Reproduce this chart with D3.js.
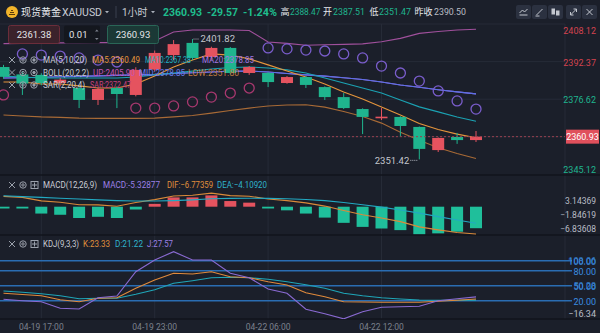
<!DOCTYPE html>
<html><head><meta charset="utf-8">
<script src="https://cdn.jsdelivr.net/npm/d3@7"></script>
<style>
html,body{margin:0;padding:0;background:#1b1f2a;overflow:hidden;}
svg{display:block;font-family:Roboto,"Noto Sans CJK SC",sans-serif;}
</style></head><body>
<svg id="c" width="600" height="333"></svg>
<script>
// ---------- DATA ----------
const times = ["04-19 15:00","04-19 16:00","04-19 17:00","04-19 18:00","04-19 19:00","04-19 20:00","04-19 21:00","04-19 22:00","04-19 23:00",
  "04-20 00:00","04-20 01:00","04-20 02:00","04-20 03:00","04-20 04:00",
  "04-22 06:00","04-22 07:00","04-22 08:00","04-22 09:00","04-22 10:00","04-22 11:00","04-22 12:00","04-22 13:00","04-22 14:00","04-22 15:00","04-22 16:00","04-22 17:00"];
const open  = [2390.1,2387.0,2386.8,2383.4,2381.3,2376.3,2381.3,2378.4,2389.0,2395.1,2400.2,2394.3,2398.1,2387.6,2387.6,2383.4,2385.9,2381.7,2377.5,2372.5,2369.1,2369.2,2365.0,2355.3,2360.8,2359.5];
const high  = [2391.0,2388.0,2387.5,2385.5,2382.0,2381.5,2382.0,2390.0,2397.0,2401.4,2401.82,2398.6,2398.5,2390.5,2388.0,2386.3,2386.2,2382.0,2379.2,2372.8,2372.9,2369.5,2365.2,2360.6,2362.5,2363.3];
const low   = [2385.2,2378.4,2382.5,2382.0,2372.9,2374.2,2372.9,2377.8,2388.3,2393.0,2393.0,2393.0,2387.0,2386.8,2381.7,2383.1,2381.3,2376.3,2372.5,2362.0,2367.9,2360.8,2351.42,2354.5,2357.9,2358.7];
const close = [2386.0,2383.2,2383.4,2384.8,2376.3,2380.9,2378.8,2388.9,2396.0,2399.7,2393.9,2398.1,2387.6,2390.1,2383.8,2385.9,2382.6,2377.5,2372.9,2369.2,2369.3,2365.4,2355.8,2360.4,2359.5,2360.93];

const ma5  = [2383.8,2383.8,2383.0,2383.0,2382.2,2381.3,2381.3,2383.0,2386.3,2390.1,2393.0,2395.6,2395.1,2393.5,2391.0,2388.4,2385.9,2383.0,2379.6,2376.7,2373.4,2370.0,2366.4,2363.9,2362.0,2360.49];
const ma10 = [2386.3,2385.9,2385.5,2385.5,2385.5,2385.5,2385.5,2385.9,2386.8,2387.6,2388.4,2389.3,2389.9,2390.1,2389.7,2388.9,2387.6,2385.5,2383.4,2381.3,2379.2,2376.3,2373.4,2371.3,2369.2,2367.38];
const ma20 = [2385.5,2385.6,2385.8,2386.0,2386.2,2386.4,2386.6,2386.8,2387.0,2387.4,2387.7,2388.0,2388.3,2388.4,2388.0,2387.4,2386.8,2386.3,2385.6,2384.9,2383.8,2382.6,2381.6,2380.6,2379.7,2378.85];
const bollUp  = [2399.9,2400.0,2400.1,2400.2,2400.2,2400.3,2400.3,2400.4,2401.0,2404.8,2405.6,2405.6,2405.6,2405.4,2400.6,2400.0,2399.2,2399.4,2399.6,2399.8,2400.7,2402.1,2404.2,2405.0,2405.6,2405.90];
const bollMid = [2385.5,2385.6,2385.8,2386.0,2386.2,2386.4,2386.6,2386.8,2387.0,2387.4,2387.7,2388.0,2388.3,2388.4,2388.0,2387.4,2386.8,2386.3,2385.6,2384.9,2383.8,2382.6,2381.6,2380.6,2379.7,2378.85];
const bollLow = [2370.0,2369.6,2369.2,2369.0,2368.7,2368.6,2368.6,2368.6,2368.7,2369.2,2369.8,2370.8,2371.9,2372.9,2373.8,2374.2,2374.3,2373.3,2371.5,2369.4,2366.6,2362.8,2359.4,2356.3,2353.9,2351.80];
const sar = [2378.4,2395.6,2395.1,2394.7,2393.9,2393.0,2392.2,2372.9,2372.9,2373.8,2375.5,2377.5,2379.2,2381.3,2398.1,2397.7,2397.2,2396.8,2395.6,2393.9,2390.5,2387.6,2384.2,2380.1,2375.9,2372.47];

const macdHist = [-0.3,-0.4,-1.7,-2.0,-2.8,-2.5,-2.8,-0.7,0.7,2.3,2.3,2.8,1.4,1.0,-0.3,-0.9,-1.7,-2.7,-4.0,-5.0,-5.4,-5.8,-6.8,-6.6,-6.2,-5.32877];
const dif = [2.55,2.3,1.45,1.1,0.5,0.45,0.1,1.05,1.75,2.65,2.85,3.35,2.75,2.6,1.9,1.5,0.95,0.15,-0.95,-2.0,-2.8,-3.7,-5.0,-5.75,-6.4,-6.77359];
const dea = [2.7,2.5,2.3,2.1,1.9,1.7,1.5,1.4,1.4,1.5,1.7,1.95,2.05,2.1,2.05,1.95,1.8,1.5,1.05,0.5,-0.1,-0.8,-1.6,-2.45,-3.3,-4.10920];

const kLine = [34.8,32.5,30.0,22.0,18.0,24.8,26.0,45.0,61.4,74.8,73.4,78.0,68.0,66.0,58.0,51.4,36.0,28.0,18.0,17.5,17.0,17.0,16.8,19.0,21.0,23.33];
const dLine = [39.4,37.0,34.0,30.0,24.0,24.8,25.0,33.0,42.0,54.8,60.0,66.0,67.0,66.0,63.0,58.0,52.0,45.0,35.0,30.0,26.0,23.5,21.5,21.0,21.0,21.22];
const jLine = [22.8,20.0,18.0,5.0,3.4,26.0,29.4,78.0,101.4,118.0,101.4,101.4,74.8,66.0,43.4,34.8,3.0,-6.0,-16.34,-2.0,6.8,8.0,8.8,20.0,24.0,27.57];

const priceTicks = [2408.12, 2392.37, 2376.62, 2345.12];
const priceGrid  = [2408.12, 2392.37, 2376.62, 2360.87];
const prevClose = 2390.50;
const lastPrice = 2360.93;
const quote = {chg: "-29.57", pct: "-1.24%", high: "2388.47", open: "2387.51", low: "2351.47", prev: "2390.50"};
const macdTicks = [3.14369, -1.84619, -6.83608];
const kdjLevels = [100, 80, 50, 20];
const kdjLevelLabels = ["100.00", "80.00", "50.00", "20.00"];
const kdjOverLabels = [["108.06", 100], ["50.28", 50]];
const kdjMin = -16.34;
const timeTicks = ["04-19 17:00","04-19 23:00","04-22 06:00","04-22 12:00"];

// ---------- SETUP ----------
const svg = d3.select("#c");
const W = 600, plotR = 565;
const C = {bg:"#1b1f2a", grid:"#262b37", sep:"#12151c", up:"#e5535f", down:"#1fb58e",
  ma5:"#e5953c", ma10:"#1ba2b3", ma20:"#8f6ad8", mid:"#5d6fe6", bUp:"#a0509c", bLow:"#a86a36",
  sarAbove:"#7a5dcc", sarBelow:"#a8386f", text:"#c9ccd4"};
const fmt2 = d3.format(".2f"), fmt5 = d3.format(".5f");
const idx = d3.range(times.length);

const x  = d3.scalePoint().domain(times).range([3.5, 476]);
const yP = d3.scaleLinear().domain([2345.12, 2408.12]).range([174.4, 24]);
const yM = d3.scaleLinear().domain([-6.83608, 3.14369]).range([234.3, 194]);
const yK = d3.scaleLinear().domain([0, 100]).range([310.7, 260.7]);

svg.append("rect").attr("width", W).attr("height", 333).attr("fill", C.bg);

const defs = svg.append("defs");
defs.append("clipPath").attr("id","cpMain").append("rect").attr("x",0).attr("y",24).attr("width",plotR).attr("height",151);
defs.append("clipPath").attr("id","cpMacd").append("rect").attr("x",0).attr("y",175).attr("width",plotR).attr("height",60);
defs.append("clipPath").attr("id","cpKdj").append("rect").attr("x",0).attr("y",235).attr("width",plotR).attr("height",84);

// grid
const grid = svg.append("g");
grid.selectAll("line.h").data(priceGrid).join("line")
  .attr("x1",0).attr("x2",plotR).attr("y1",d=>yP(d)).attr("y2",d=>yP(d)).attr("stroke",C.grid);
grid.selectAll("line.v").data(timeTicks).join("line")
  .attr("x1",d=>x(d)).attr("x2",d=>x(d)).attr("y1",24).attr("y2",319).attr("stroke",C.grid);
grid.append("line").attr("x1",plotR).attr("x2",plotR).attr("y1",24).attr("y2",319).attr("stroke",C.grid);
[175, 235, 319].forEach(y => grid.append("line").attr("x1",0).attr("x2",W).attr("y1",y).attr("y2",y).attr("stroke",C.sep).attr("stroke-width",1.5));

// ---------- MAIN ----------
const gMain = svg.append("g").attr("clip-path","url(#cpMain)");
const line = (arr, ys) => d3.line().x((d,i)=>x(times[i])).y(d=>ys(d))(arr);
[[bollLow,C.bLow],[bollUp,C.bUp],[ma20,C.ma20],[bollMid,C.mid],[ma10,C.ma10],[ma5,C.ma5]].forEach(([arr,col])=>{
  gMain.append("path").attr("d", line(arr, yP)).attr("fill","none").attr("stroke",col).attr("stroke-width",1.1);
});
const cw = 12;
const candleCol = i => close[i] >= open[i] ? C.up : C.down;
gMain.selectAll("line.wick").data(idx).join("line")
  .attr("x1",i=>x(times[i])).attr("x2",i=>x(times[i]))
  .attr("y1",i=>yP(high[i])).attr("y2",i=>yP(low[i])).attr("stroke",candleCol).attr("stroke-width",1);
gMain.selectAll("rect.body").data(idx).join("rect")
  .attr("x",i=>x(times[i])-cw/2).attr("width",cw)
  .attr("y",i=>yP(Math.max(open[i],close[i])))
  .attr("height",i=>Math.max(1.6, Math.abs(yP(open[i])-yP(close[i]))))
  .attr("fill",candleCol);
gMain.selectAll("circle.sar").data(idx).join("circle")
  .attr("cx",i=>x(times[i])).attr("cy",i=>yP(sar[i])).attr("r",5)
  .attr("fill","none").attr("stroke-width",1.3)
  .attr("stroke",i=> sar[i] > close[i] ? C.sarAbove : C.sarBelow);

// current price line
gMain.append("line").attr("x1",0).attr("x2",plotR).attr("y1",yP(lastPrice)).attr("y2",yP(lastPrice))
  .attr("stroke","#9a4150").attr("stroke-dasharray","2,2");

// high/low markers
const iMax = d3.maxIndex(high), iMin = d3.minIndex(low);
const hx = x(times[iMax]), hy = yP(high[iMax]);
svg.append("line").attr("x1",hx+1).attr("x2",hx+7).attr("y1",hy).attr("y2",hy).attr("stroke","#aeb2bb").attr("stroke-dasharray","1,1");
svg.append("text").attr("x",hx+8).attr("y",hy).attr("dy","0.35em").attr("font-size",9.5).attr("fill","#c3c6cd").text(fmt2(high[iMax]));
const lx = x(times[iMin]), ly = yP(low[iMin]);
svg.append("line").attr("x1",lx-9).attr("x2",lx-1).attr("y1",ly+1).attr("y2",ly+1).attr("stroke","#aeb2bb").attr("stroke-dasharray","1,1");
svg.append("text").attr("x",lx-10).attr("y",ly+1).attr("dy","0.35em").attr("text-anchor","end").attr("font-size",9.5).attr("fill","#c3c6cd").text(fmt2(low[iMin]));

// price axis labels
const pMin = d3.min(priceTicks), pMax = d3.max(priceTicks);
svg.selectAll("text.pt").data(priceTicks).join("text")
  .attr("x",596).attr("text-anchor","end").attr("font-size",9)
  .attr("y",d=> yP(d) + (d===pMax?7:(d===pMin?-5:1))).attr("dy","0.35em")
  .attr("fill",d=> d>prevClose ? "#d4434f" : "#1fb58e").text(d=>fmt2(d));
svg.append("rect").attr("x",566).attr("y",yP(lastPrice)-7).attr("width",33).attr("height",14).attr("fill","#e0505c");
svg.append("text").attr("x",582.5).attr("y",yP(lastPrice)).attr("dy","0.35em").attr("text-anchor","middle")
  .attr("font-size",9).attr("fill","#fff").text(fmt2(lastPrice));

// ---------- MACD ----------
const gM = svg.append("g").attr("clip-path","url(#cpMacd)");
gM.selectAll("rect").data(idx).join("rect")
  .attr("x",i=>x(times[i])-cw/2).attr("width",cw)
  .attr("y",i=> macdHist[i]>=0 ? yM(macdHist[i]) : yM(0))
  .attr("height",i=> Math.max(1.8, Math.abs(yM(macdHist[i])-yM(0))))
  .attr("fill",i=> macdHist[i]>=0 ? C.up : "#1fbf9b");
gM.append("path").attr("d",line(dif,yM)).attr("fill","none").attr("stroke","#d98a3a").attr("stroke-width",1.1);
gM.append("path").attr("d",line(dea,yM)).attr("fill","none").attr("stroke","#22a9c2").attr("stroke-width",1.1);
const mMax = d3.max(macdTicks), mMin = d3.min(macdTicks);
svg.selectAll("text.mt").data(macdTicks).join("text")
  .attr("x",596).attr("text-anchor","end").attr("font-size",8.5).attr("fill","#b9bdc6")
  .attr("y",d=> yM(d) + (d===mMax?7.5:(d===mMin?-5:1))).attr("dy","0.35em").text(d=>fmt5(d));

// ---------- KDJ ----------
const gK = svg.append("g");
gK.selectAll("line.lv").data(kdjLevels).join("line")
  .attr("x1",0).attr("x2",572).attr("y1",d=>yK(d)).attr("y2",d=>yK(d)).attr("stroke","#2a6db2").attr("stroke-width",1.4);
const gKc = svg.append("g").attr("clip-path","url(#cpKdj)");
[[dLine,"#1fa6b8"],[kLine,"#e08a3c"],[jLine,"#8a6ad2"]].forEach(([arr,col])=>{
  gKc.append("path").attr("d",line(arr,yK)).attr("fill","none").attr("stroke",col).attr("stroke-width",1.1);
});
svg.selectAll("text.kl").data(kdjLevels).join("text")
  .attr("x",596).attr("text-anchor","end").attr("font-size",9).attr("fill","#3a8de0")
  .attr("y",d=>yK(d)+1).attr("dy","0.35em").text((d,i)=>kdjLevelLabels[i]);
svg.selectAll("text.ko").data(kdjOverLabels).join("text")
  .attr("x",596).attr("text-anchor","end").attr("font-size",9).attr("fill","#3a8de0").attr("opacity",0.8)
  .attr("y",d=>yK(d[1])+0.5).attr("dy","0.35em").text(d=>d[0]);
svg.append("text").attr("x",596).attr("text-anchor","end").attr("font-size",9).attr("fill","#b9bdc6")
  .attr("y",yK(kdjMin)-5).attr("dy","0.35em").text(fmt2(kdjMin));

// time axis
svg.selectAll("text.tt").data(timeTicks).join("text")
  .attr("x",d=>x(d)).attr("y",327).attr("dy","0.35em").attr("text-anchor","middle")
  .attr("font-size",8.5).attr("fill","#7c818d").text(d=>d);

// ---------- LEGENDS ----------
function icons(y, third){
  const g = svg.append("g").attr("stroke","#9aa0ab").attr("fill","none").attr("stroke-width",1);
  g.append("path").attr("d",`M9,${y-3}L15,${y+3}M15,${y-3}L9,${y+3}`);
  g.append("circle").attr("cx",23).attr("cy",y).attr("r",3.2);
  g.append("circle").attr("cx",23).attr("cy",y).attr("r",1.2);
  if(third==="eye"){
    g.append("circle").attr("cx",34).attr("cy",y).attr("r",3.2);
    g.append("circle").attr("cx",34).attr("cy",y).attr("r",1.2).attr("fill","#9aa0ab");
  } else {
    g.append("rect").attr("x",31).attr("y",y-3.5).attr("width",7).attr("height",7);
    g.append("path").attr("d",`M34.5,${y-2.5}V${y+2.5}M32,${y}H37`);
  }
}
function legend(y, items){
  items.forEach(([t,xx,col,len])=> svg.append("text").attr("x",xx).attr("y",y).attr("dy","0.35em")
    .attr("font-size",9).attr("fill",col).attr("textLength",len).attr("lengthAdjust","spacingAndGlyphs").text(t));
}
icons(60,"eye"); icons(72.5,"eye"); icons(85,"eye");
legend(60, [["MA(5,10,20)",43,C.text,44],["MA5:"+fmt2(ma5.at(-1)),92,"#e5953c",48],["MA10:"+fmt2(ma10.at(-1)),145,"#1fb3c3",46],["MA20:"+fmt2(ma20.at(-1)),202,"#a277e0",52]]);
legend(72.5, [["BOLL(20,2,2)",43,C.text,46],["UP:"+fmt2(bollUp.at(-1)),93,"#c552b6",42],["MID:"+fmt2(bollMid.at(-1)),139,"#6d7cec",46],["LOW:"+fmt2(bollLow.at(-1)),188,"#c07a3e",51]]);
legend(85, [["SAR(2,20,4)",43,C.text,42],["SAR:"+fmt2(sar.at(-1)),90,"#c83f7a",41]]);
icons(185,"box");
legend(185, [["MACD(12,26,9)",43,C.text,54],["MACD:-"+fmt5(-macdHist.at(-1)),103,"#9b80e6",57],["DIF:"+fmt5(dif.at(-1)),167,"#e0903c",46],["DEA:"+fmt5(dea.at(-1)),217,"#2fb3cc",50]]);
icons(244,"box");
legend(244, [["KDJ(9,3,3)",43,C.text,36],["K:"+fmt2(kLine.at(-1)),83,"#e0903c",27],["D:"+fmt2(dLine.at(-1)),115,"#2fb3cc",28],["J:"+fmt2(jLine.at(-1)),147,"#9b80e6",26]]);

// ---------- ORDER BOXES ----------
svg.append("rect").attr("x",8.5).attr("y",25.5).attr("width",51).attr("height",18).attr("rx",2).attr("fill","#3b222b").attr("stroke","#6b2d3a");
svg.append("text").attr("x",34).attr("y",35).attr("dy","0.35em").attr("text-anchor","middle").attr("font-size",9.5).attr("fill","#e3e4e8").text("2361.38");
svg.append("rect").attr("x",64).attr("y",25.5).attr("width",36).attr("height",18).attr("rx",2).attr("fill","#14171e");
svg.append("text").attr("x",69).attr("y",35).attr("dy","0.35em").attr("font-size",9.5).attr("fill","#e3e4e8").text("0.01");
svg.append("path").attr("d","M95,31.5l1.8,-2l1.8,2zM95,38l1.8,2l1.8,-2z").attr("fill","#7d828d");
svg.append("rect").attr("x",107.5).attr("y",25.5).attr("width",51).attr("height",18).attr("rx",2).attr("fill","#1b3936").attr("stroke","#2a6657");
svg.append("text").attr("x",133).attr("y",35).attr("dy","0.35em").attr("text-anchor","middle").attr("font-size",9.5).attr("fill","#e3e4e8").text("2360.93");

// ---------- HEADER ----------
const hy0 = 12;
svg.append("circle").attr("cx",12).attr("cy",hy0).attr("r",6).attr("fill","#f2b42a");
svg.append("path").attr("d","M9,14.5h6M10,12.5h4M11,10.5h2").attr("stroke","#5a3b08").attr("stroke-width",1.2);
const ht = (t,xx,col,sz,bold,len)=> {
  const e = svg.append("text").attr("x",xx).attr("y",hy0).attr("dy","0.35em").attr("font-size",sz||10)
  .attr("font-weight",bold?"bold":"normal").attr("fill",col).text(t);
  if(len) e.attr("textLength",len).attr("lengthAdjust","spacingAndGlyphs");
  return e;
};
ht("现货黄金",21,"#e6e8ec",10);
ht("XAUUSD",62,"#c9ccd4",10.5,false,40);
svg.append("path").attr("d","M105,11l2,2.2l2,-2.2z").attr("fill","#aab0ba");
svg.append("line").attr("x1",116).attr("x2",116).attr("y1",6).attr("y2",18).attr("stroke","#3a404e");
ht("1小时",122,"#c9ccd4",10);
svg.append("path").attr("d","M151,11l2,2.2l2,-2.2z").attr("fill","#aab0ba");
ht(fmt2(lastPrice),163,"#1fbd8d",11,true,39);
ht(quote.chg,207,"#1fbd8d",11,true,31);
ht(quote.pct,243,"#1fbd8d",11,true,34);
ht("高",280.5,"#e6e8ec",9); ht(quote.high,290,"#1fb58e",8.4);
ht("开",323,"#e6e8ec",9); ht(quote.open,333,"#1fb58e",8.8);
ht("低",369.5,"#e6e8ec",9); ht(quote.low,379,"#1fb58e",8.8);
ht("昨收",414.5,"#e6e8ec",9); ht(quote.prev,434,"#b9bcc4",8.8);
const btnX = [516,532,548,566,582];
btnX.forEach((bx,i)=>{
  svg.append("rect").attr("x",bx).attr("y",5).attr("width",15).attr("height",14).attr("rx",2).attr("fill","#2b3140");
  const g = svg.append("g").attr("stroke","#c3c7cf").attr("fill","none").attr("stroke-width",1);
  const cx = bx+7.5, cy = 12;
  if(i===0) g.append("path").attr("d",`M${cx-4},${cy+3}H${cx+4}M${cx-4},${cy+1}L${cx-1},${cy-2}L${cx+1},${cy}L${cx+4},${cy-3}`);
  if(i===1) g.append("path").attr("d",`M${cx-3},${cy+3}L${cx+3},${cy-3}M${cx-4},${cy+4}H${cx}`);
  if(i===2){ g.append("rect").attr("x",cx-3.5).attr("y",cy-3).attr("width",2.5).attr("height",5).attr("fill","#c3c7cf");
             g.append("rect").attr("x",cx+1).attr("y",cy-1).attr("width",2.5).attr("height",4).attr("fill","#c3c7cf"); }
  if(i===3) g.append("path").attr("d",`M${cx-3},${cy+3}L${cx+3},${cy-3}M${cx},${cy-3}H${cx+3}V${cy}M${cx-3},${cy}V${cy+3}H${cx}`);
  if(i===4) g.append("path").attr("d",`M${cx-3},${cy-3}L${cx+3},${cy+3}M${cx+3},${cy-3}L${cx-3},${cy+3}`);
});
</script>
</body></html>
